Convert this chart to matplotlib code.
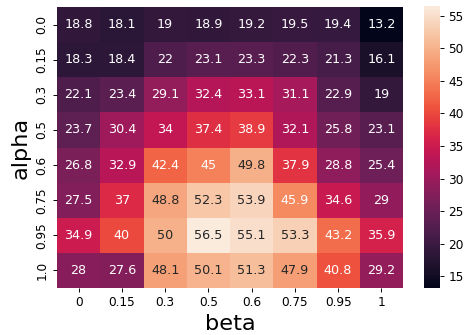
import matplotlib as mpl
mpl.use('Agg')
import matplotlib.pyplot as plt
import numpy as np
import seaborn as sns

alpha = ['0.0', '0.15', '0.3', '0.5', '0.6', '0.75', '0.95', '1.0']
beta = ['0', '0.15', '0.3', '0.5', '0.6', '0.75', '0.95', '1']

scores = np.array([
    [18.8, 18.1, 19.0, 18.9, 19.2, 19.5, 19.4, 13.2],
    [18.3, 18.4, 22.0, 23.1, 23.3, 22.3, 21.3, 16.1],
    [22.1, 23.4, 29.1, 32.4, 33.1, 31.1, 22.9, 19.0],
    [23.7, 30.4, 34.0, 37.4, 38.9, 32.1, 25.8, 23.1],
    [26.8, 32.9, 42.4, 45.0, 49.8, 37.9, 28.8, 25.4],
    [27.5, 37.0, 48.8, 52.3, 53.9, 45.9, 34.6, 29.0],
    [34.9, 40.0, 50.0, 56.5, 55.1, 53.3, 43.2, 35.9],
    [28.0, 27.6, 48.1, 50.1, 51.3, 47.9, 40.8, 29.2],
])

dpi = 85
fig = plt.figure(figsize=(465 / dpi, 335 / dpi), dpi=dpi)
ax = fig.add_axes([57 / 465, 47 / 335, 346 / 465, 281 / 335])
cax = fig.add_axes([424 / 465, 47 / 335, 16 / 465, 282 / 335])
sns.heatmap(scores, annot=True, fmt='.3g', annot_kws={'size': 10.8},
            xticklabels=beta, yticklabels=alpha, ax=ax, cbar_ax=cax)
ax.set_xlabel('beta', fontsize=19)
ax.set_ylabel('alpha', fontsize=19)
ax.tick_params(labelsize=10.3)
cax.tick_params(labelsize=10.3)
plt.setp(ax.get_yticklabels(), rotation=90, va='center')
plt.setp(ax.get_xticklabels(), rotation=0)
plt.savefig('out.png', dpi=dpi)
plt.close()
